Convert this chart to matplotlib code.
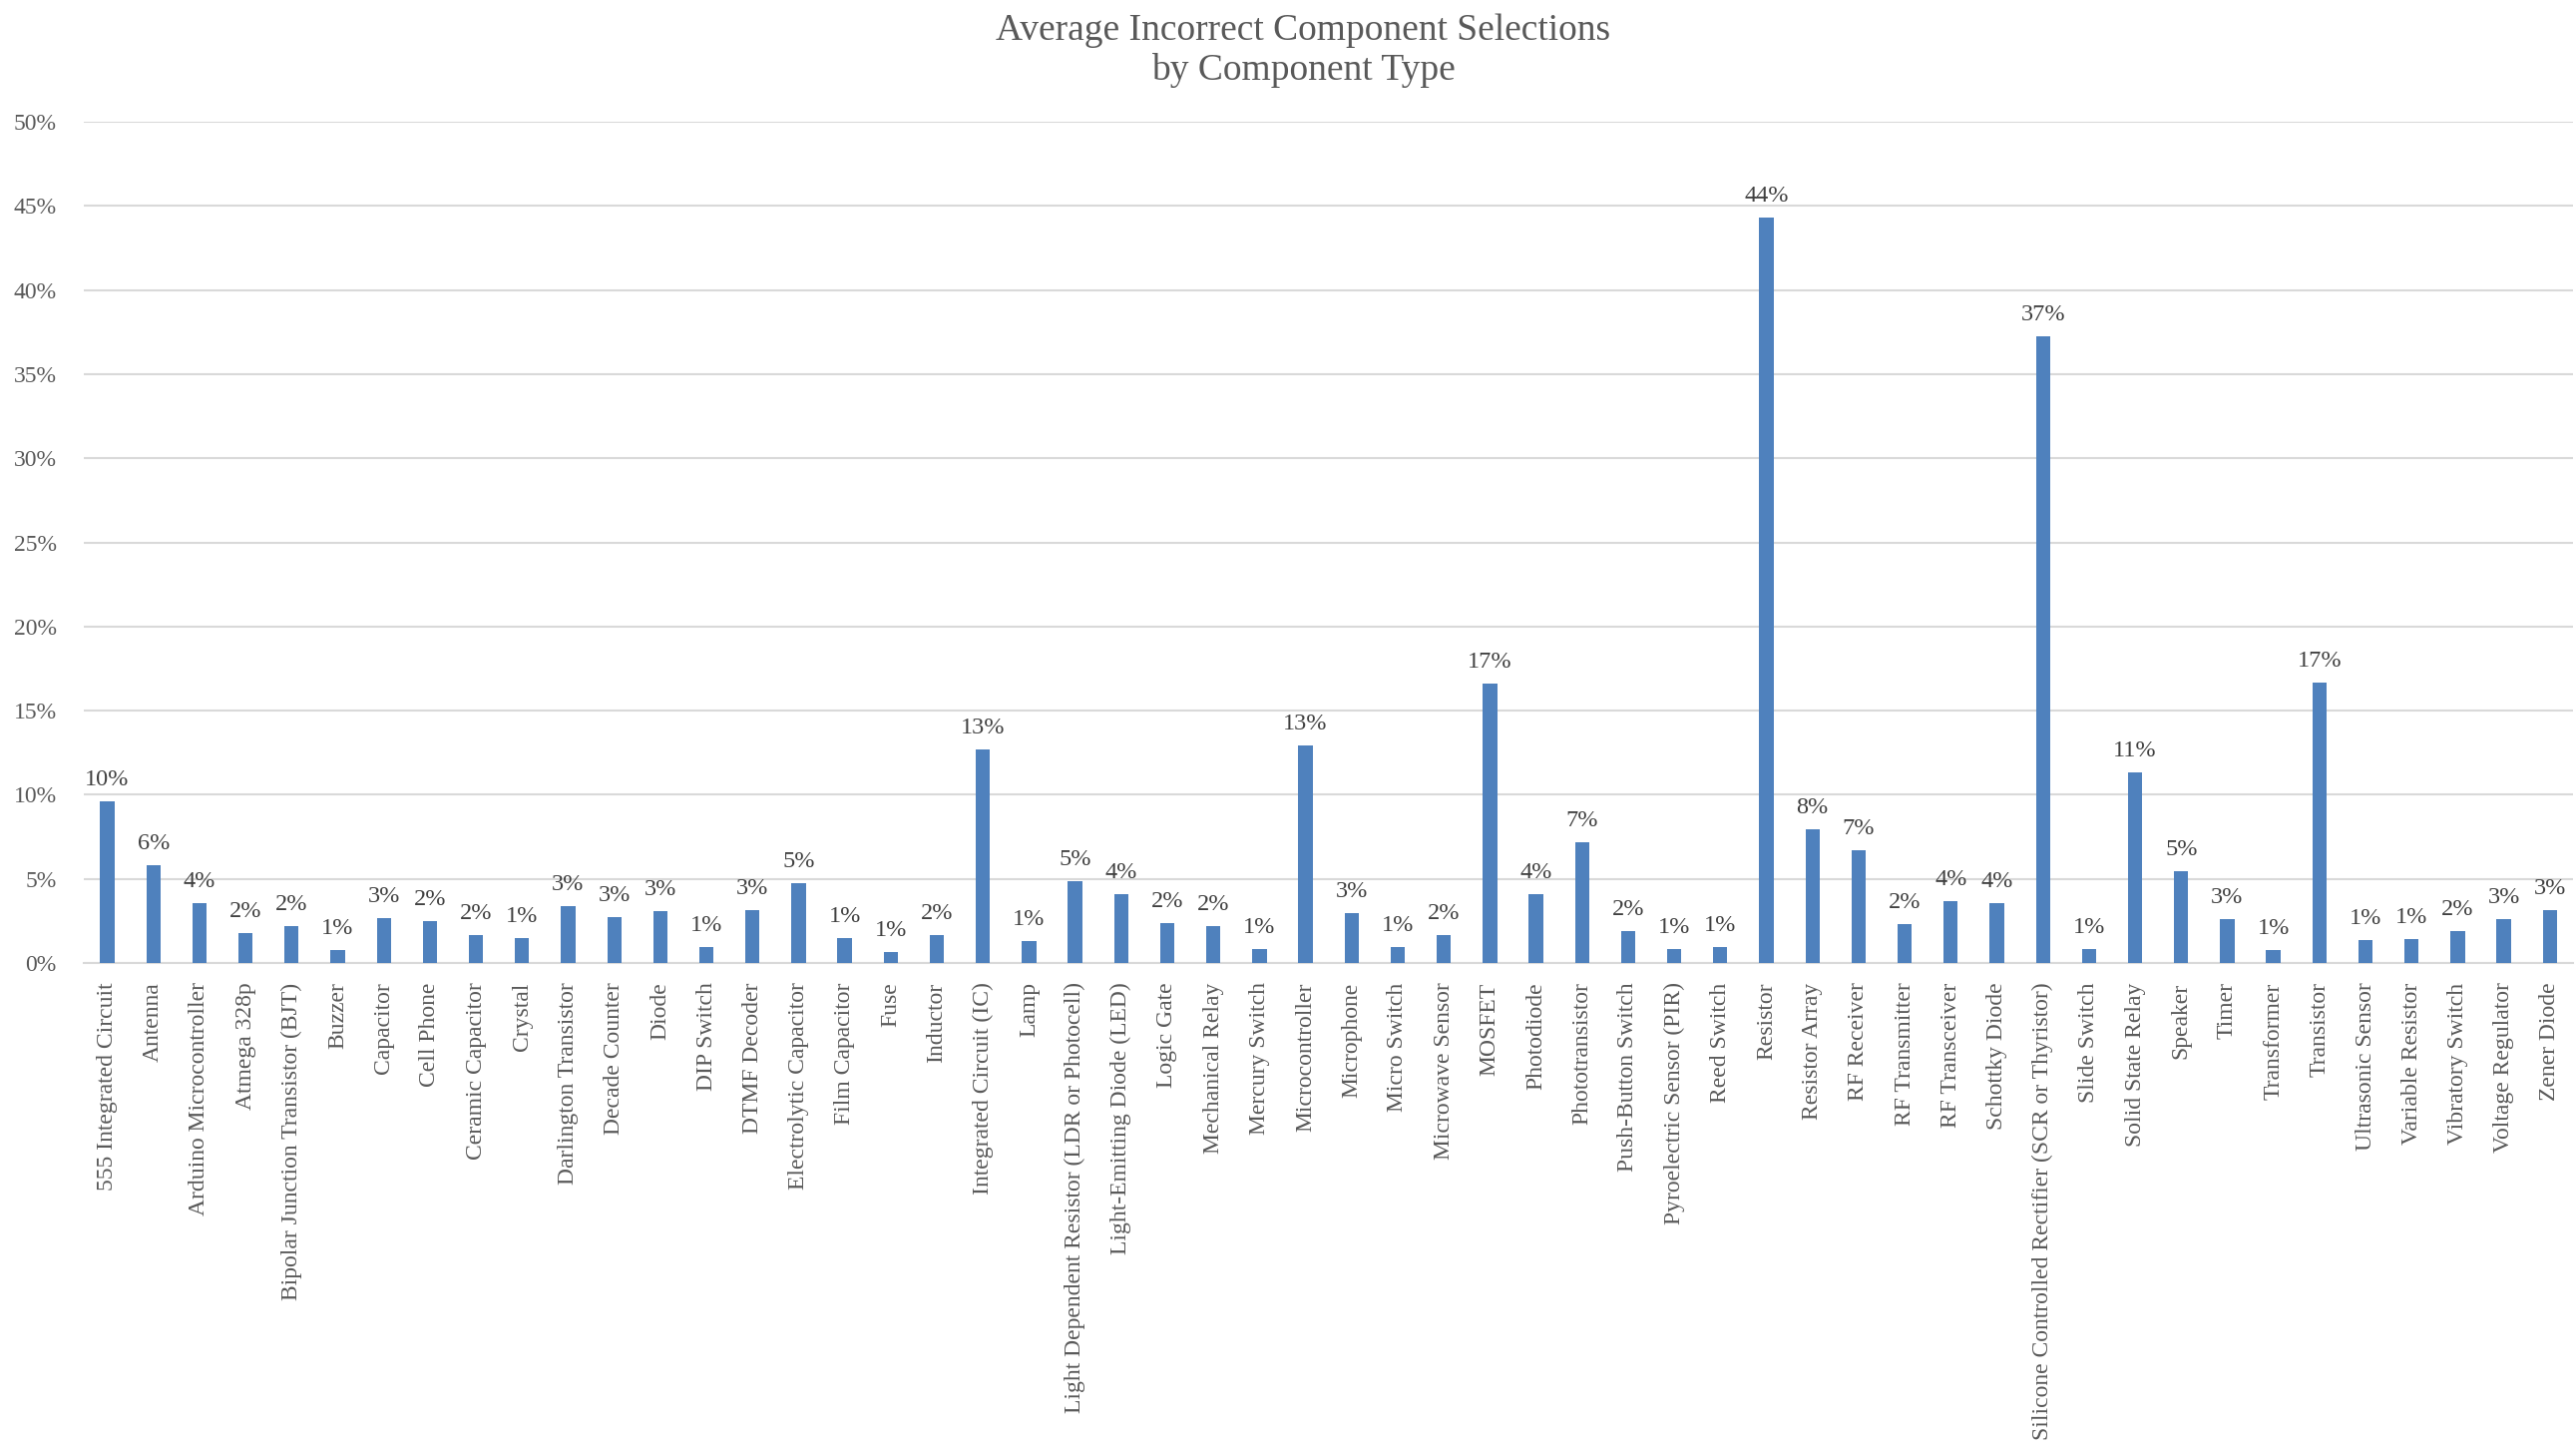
import matplotlib.pyplot as plt
from matplotlib.ticker import FuncFormatter

components = [
    "555 Integrated Circuit", "Antenna", "Arduino Microcontroller", "Atmega 328p",
    "Bipolar Junction Transistor (BJT)", "Buzzer", "Capacitor", "Cell Phone",
    "Ceramic Capacitor", "Crystal", "Darlington Transistor", "Decade Counter",
    "Diode", "DIP Switch", "DTMF Decoder", "Electrolytic Capacitor",
    "Film Capacitor", "Fuse", "Inductor", "Integrated Circuit (IC)", "Lamp",
    "Light Dependent Resistor (LDR or Photocell)", "Light-Emitting Diode (LED)",
    "Logic Gate", "Mechanical Relay", "Mercury Switch", "Microcontroller",
    "Microphone", "Micro Switch", "Microwave Sensor", "MOSFET", "Photodiode",
    "Phototransistor", "Push-Button Switch", "Pyroelectric Sensor (PIR)",
    "Reed Switch", "Resistor", "Resistor Array", "RF Receiver", "RF Transmitter",
    "RF Transceiver", "Schottky Diode",
    "Silicone Controlled Rectifier (SCR or Thyristor)", "Slide Switch",
    "Solid State Relay", "Speaker", "Timer", "Transformer", "Transistor",
    "Ultrasonic Sensor", "Variable Resistor", "Vibratory Switch",
    "Voltage Regulator", "Zener Diode",
]

# share of incorrect selections per component type
incorrect = [
    0.0959, 0.0583, 0.0354, 0.0176, 0.0218, 0.0077, 0.0265, 0.0247, 0.0166,
    0.0146, 0.0336, 0.0273, 0.0307, 0.0097, 0.0312, 0.0476, 0.0148, 0.0067,
    0.0164, 0.1271, 0.0132, 0.0485, 0.0411, 0.0235, 0.0218, 0.0083, 0.1293,
    0.0295, 0.0093, 0.0166, 0.1659, 0.0407, 0.0716, 0.0190, 0.0083, 0.0095,
    0.4429, 0.0795, 0.0672, 0.0233, 0.0366, 0.0358, 0.3723, 0.0083, 0.1135,
    0.0544, 0.0259, 0.0075, 0.1665, 0.0136, 0.0140, 0.0192, 0.0261, 0.0316,
]

yticks = [0, 0.05, 0.10, 0.15, 0.20, 0.25, 0.30, 0.35, 0.40, 0.45, 0.50]

plt.rcParams["font.family"] = ["Liberation Serif", "DejaVu Serif"]

fig = plt.figure(figsize=(25.82, 14.49), dpi=100)
ax = fig.add_axes([0.0327, 0.334, 0.9661, 0.5818])

x = list(range(len(components)))
bars = ax.bar(x, incorrect, width=0.31, color="#4F81BD", zorder=3)

for xi, v in zip(x, incorrect):
    ax.annotate(f"{v:.0%}", (xi, v), xytext=(0, 8), textcoords="offset points",
                ha="center", va="bottom", fontsize=17.5, color="#404040")

ax.set_xlim(-0.5, len(components) - 0.5)
ax.set_ylim(0, 0.5)
ax.set_yticks(yticks)
ax.yaxis.set_major_formatter(FuncFormatter(lambda v, _: f"{v * 100:.0f}%"))
ax.set_xticks(x)
ax.set_xticklabels(components, rotation=90)

ax.tick_params(axis="y", length=0, pad=20, labelsize=17, labelcolor="#595959")
ax.tick_params(axis="x", length=0, pad=14, labelsize=17, labelcolor="#595959")

ax.grid(axis="y", color="#D9D9D9", linewidth=1.5, zorder=0)
for side in ["top", "right", "left"]:
    ax.spines[side].set_visible(False)
ax.spines["bottom"].set_color("#D9D9D9")
ax.spines["bottom"].set_linewidth(1.5)

fig.text(0.506, 0.991, "Average Incorrect Component Selections\nby Component Type",
         ha="center", va="top", fontsize=27, color="#595959", linespacing=1.2)

fig.savefig("out.png", dpi=100)
